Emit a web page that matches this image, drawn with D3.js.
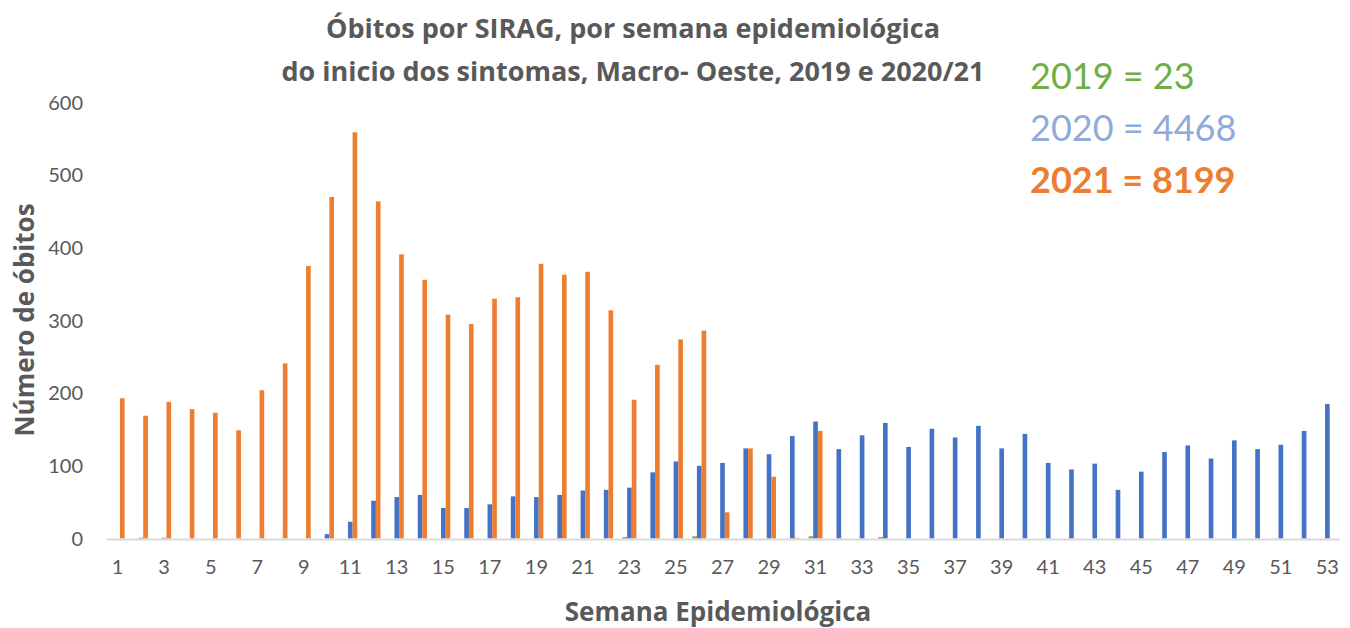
<!DOCTYPE html>
<html><head><meta charset="utf-8">
<script src="https://cdn.jsdelivr.net/npm/d3@7"></script>
<style>body{margin:0;background:#fff}svg{display:block}</style>
</head><body>
<svg id="c" width="1350" height="628"></svg>
<script>
const weeks = d3.range(1, 54);
const seriesNames = ["2019", "2020", "2021"];
const v2019 = [0,0,0,0,0,0,0,0,0,0,0,0,0,0,0,0,0,0,0,0,0,0,2,0,0,3,0,0,0,0,3,0,0,2,0,0,0,0,0,0,0,0,0,0,0,0,0,0,0,0,0,0,0];
const v2020 = [0,1,1,0,0,0,0,0,0,6,23,52,57,60,42,42,47,58,57,60,66,67,70,91,106,100,104,124,116,141,161,123,142,159,126,151,139,155,124,144,104,95,103,67,92,119,128,110,135,123,129,148,185];
const v2021 = [193,169,188,178,173,149,204,241,375,470,559,464,391,356,308,295,330,332,378,363,367,314,191,239,274,286,36,124,85,1,148,0,0,0,0,0,0,0,0,0,0,0,0,0,0,0,0,0,0,0,0,0,0];
const yTicks = [0,100,200,300,400,500,600];
const xTickLabels = weeks.filter(w => w % 2 === 1);
const titleLines = ["Óbitos por SIRAG, por semana epidemiológica", "do inicio dos sintomas, Macro- Oeste, 2019 e 2020/21"];
const totals = [["2019 = 23", "#70AD47", "normal"], ["2020 = 4468", "#8FAADC", "normal"], ["2021 = 8199", "#ED7D31", "bold"]];
const colors = {"2019": "#70AD47", "2020": "#4472C4", "2021": "#ED7D31"};
const seriesData = {"2019": v2019, "2020": v2020, "2021": v2021};

const svg = d3.select("#c");
const font = "Lato, 'Open Sans', sans-serif";
const font2 = "'Open Sans', Lato, sans-serif";
const L = 107, R = 1340, T = 102.5, B = 538.5;

const x0 = d3.scaleBand().domain(weeks).range([L, R]).padding(0);
const bw = x0.bandwidth();
const x1 = d3.scaleBand().domain(seriesNames).range([bw * 0.2 - 1, bw * 0.8 - 1]).padding(0);
const y = d3.scaleLinear().domain([0, 600]).range([B, T]);

// bars
const g = svg.append("g");
seriesNames.forEach(s => {
  g.selectAll(null).data(weeks.map((w, i) => ({w, v: seriesData[s][i]})).filter(d => d.v > 0))
    .enter().append("rect")
    .attr("x", d => x0(d.w) + x1(s))
    .attr("width", x1.bandwidth())
    .attr("y", d => y(d.v))
    .attr("height", d => B - y(d.v))
    .attr("fill", colors[s]);
});

// x axis line
svg.append("line").attr("x1", L).attr("x2", R).attr("y1", B + 1).attr("y2", B + 1)
  .attr("stroke", "#d9d9d9").attr("stroke-width", 2);

// y tick labels
svg.selectAll(null).data(yTicks).enter().append("text")
  .attr("x", 83).attr("y", d => y(d)).attr("dy", "0.35em")
  .attr("text-anchor", "end").attr("font-family", font).attr("font-size", 20)
  .attr("fill", "#595959").text(d => d);

// x tick labels
svg.selectAll(null).data(xTickLabels).enter().append("text")
  .attr("x", d => x0(d) + bw / 2 - 1).attr("y", 574)
  .attr("text-anchor", "middle").attr("font-family", font).attr("font-size", 20)
  .attr("fill", "#595959").text(d => d);

// title
svg.selectAll(null).data(titleLines).enter().append("text")
  .attr("x", 633).attr("y", (d, i) => 38 + i * 43)
  .attr("text-anchor", "middle").attr("font-family", font2).attr("font-size", 27)
  .attr("font-weight", "bold").attr("fill", "#595959").text(d => d);

// axis titles
svg.append("text").attr("transform", "translate(34,320) rotate(-90)")
  .attr("text-anchor", "middle").attr("font-family", font2).attr("font-size", 26)
  .attr("font-weight", "bold").attr("fill", "#595959").text("Número de óbitos");
svg.append("text").attr("x", 718).attr("y", 621)
  .attr("text-anchor", "middle").attr("font-family", font2).attr("font-size", 26)
  .attr("font-weight", "bold").attr("fill", "#595959").text("Semana Epidemiológica");

// totals annotation
svg.selectAll(null).data(totals).enter().append("text")
  .attr("x", 1030).attr("y", (d, i) => 89 + i * 52)
  .attr("font-family", font).attr("font-size", 36)
  .attr("font-weight", d => d[2]).attr("fill", d => d[1]).text(d => d[0]);
</script>
</body></html>
